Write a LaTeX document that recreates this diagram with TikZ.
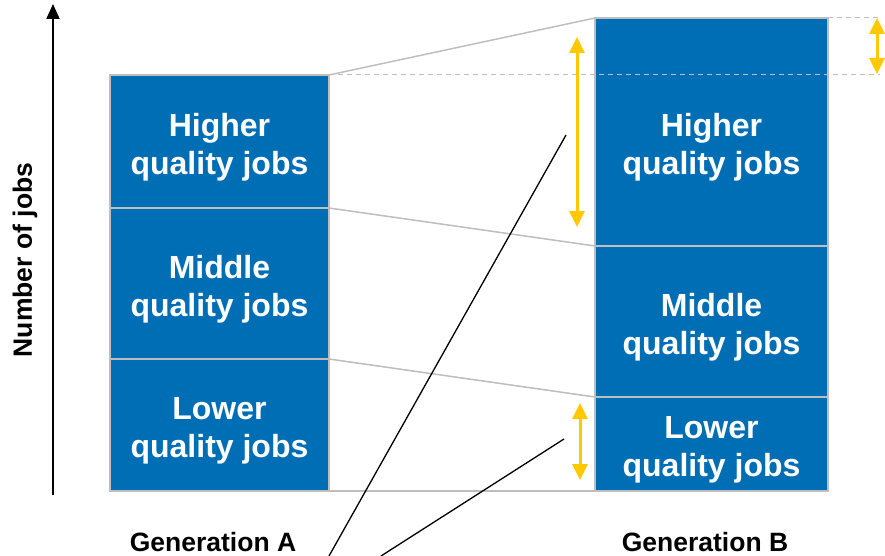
\documentclass[tikz,border=0pt]{standalone}
\usepackage{fontspec}
\setmainfont{Liberation Sans}
\usetikzlibrary{arrows.meta}
\definecolor{barblue}{RGB}{0,110,180}
\definecolor{bargrey}{RGB}{190,190,190}
\definecolor{arrowyellow}{RGB}{255,200,0}
\begin{document}
\begin{tikzpicture}[x=1pt,y=-1pt,
  bar/.style={draw=bargrey,line width=1.5pt,fill=barblue,inner sep=0pt,outer sep=0pt,anchor=north west},
  boxtext/.style={text=white,font=\bfseries\fontsize{32}{38}\selectfont,align=center,inner sep=0pt},
  gentext/.style={font=\bfseries\fontsize{26.5}{30}\selectfont,inner sep=0pt},
  link/.style={draw=bargrey,line width=1.5pt},
  guide/.style={draw=bargrey,line width=1pt,dash pattern=on 5pt off 4pt},
  change/.style={draw=arrowyellow,line width=3pt,{Triangle[width=15pt,length=16pt]}-{Triangle[width=15pt,length=16pt]}},
  pointer/.style={draw=black,line width=1.3pt}]
\useasboundingbox (0,0) rectangle (885,556);
% axis
\coordinate (axb) at (53,495);
\coordinate (axt) at (53,4);
\draw[line width=2pt,-{Triangle[width=13pt,length=15pt]}] (axb) -- (axt);
\node[gentext,rotate=90] (ylab) at (25,260) {Number of jobs};
% left bar
\node[bar,minimum width=219pt,minimum height=133pt] (lh) at (110,75) {};
\node[bar,minimum width=219pt,minimum height=151pt] (lm) at (110,208) {};
\node[bar,minimum width=219pt,minimum height=132pt] (ll) at (110,359) {};
% right bar
\node[bar,minimum width=233pt,minimum height=228pt] (rh) at (595,18) {};
\node[bar,minimum width=233pt,minimum height=151pt] (rm) at (595,246) {};
\node[bar,minimum width=233pt,minimum height=94pt] (rl) at (595,397) {};
% guides
\coordinate (g1) at (880,75);
\coordinate (g2) at (880,18);
\draw[guide] (lh.north east) -- (g1);
\draw[guide] (rh.north east) -- (g2);
% links
\draw[link] (lh.north east) -- (rh.north west);
\draw[link] (lm.north east) -- (rm.north west);
\draw[link] (ll.north east) -- (rl.north west);
\draw[link] (ll.south east) -- (rl.south west);
% texts
\node[boxtext] (t1) at (219.5,147) {Higher\\quality jobs};
\node[boxtext] (t2) at (219.5,289) {Middle\\quality jobs};
\node[boxtext] (t3) at (219.5,431) {Lower\\quality jobs};
\node[boxtext] (t4) at (711.5,147) {Higher\\quality jobs};
\node[boxtext] (t5) at (711.5,327) {Middle\\quality jobs};
\node[boxtext] (t6) at (711.5,450) {Lower\\quality jobs};
\node[gentext] (ga) at (213,542) {Generation A};
\node[gentext] (gb) at (705,542) {Generation B};
% yellow arrows
\coordinate (y1a) at (577,37);
\coordinate (y1b) at (577,227);
\coordinate (y2a) at (877,18);
\coordinate (y2b) at (877,74);
\coordinate (y3a) at (580,403);
\coordinate (y3b) at (580,480);
\draw[change] (y1a) -- (y1b);
\draw[change] (y2a) -- (y2b);
\draw[change] (y3a) -- (y3b);
% pointers
\coordinate (p1a) at (566,135);
\coordinate (p1b) at (329,556);
\coordinate (p2a) at (564,439);
\coordinate (p2b) at (381,556);
\draw[pointer] (p1a) -- (p1b);
\draw[pointer] (p2a) -- (p2b);
\end{tikzpicture}
\end{document}
